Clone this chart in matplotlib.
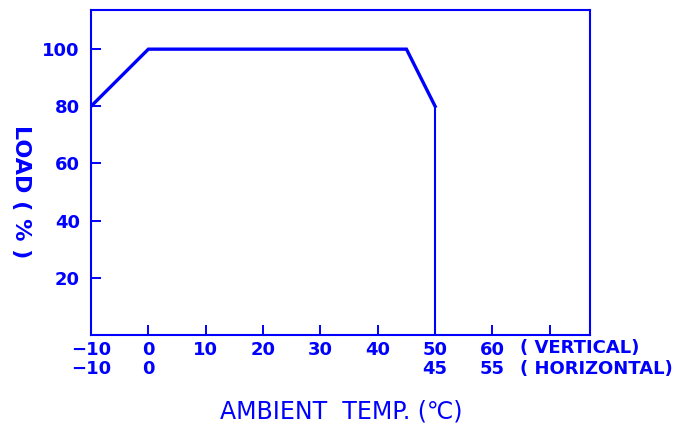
import matplotlib
matplotlib.use("Agg")
import matplotlib.pyplot as plt
from matplotlib.transforms import blended_transform_factory

BLUE = "#0000FF"

# data (vertical mounting scale)
curve_x = [-10, 0, 45, 50]
curve_y = [80, 100, 100, 80]
drop_x = [50, 50]
drop_y = [80, 0]

x_ticks = [-10, 0, 10, 20, 30, 40, 50, 60, 70]
vert_labels = ["−10", "0", "10", "20", "30", "40", "50", "60", ""]
horiz_pos = [-10, 0, 50, 60]
horiz_labels = ["−10", "0", "45", "55"]
y_ticks = [20, 40, 60, 80, 100]
y_labels = ["20", "40", "60", "80", "100"]

plt.rcParams['font.family'] = ['DejaVu Sans']
fig = plt.figure(figsize=(6.76, 4.26), dpi=100)
ax = fig.add_axes([91/676, 1-335/426, (590-91)/676, (335-10)/426])

ax.plot(curve_x, curve_y, color=BLUE, lw=2.4, solid_joinstyle='miter')
ax.plot(drop_x, drop_y, color=BLUE, lw=1.5)

ax.set_xlim(-10, 77)
ax.set_ylim(0, 113.7)

for s in ax.spines.values():
    s.set_color(BLUE)
    s.set_linewidth(1.5)

ax.set_xticks(x_ticks)
ax.set_xticklabels(vert_labels)
ax.set_yticks(y_ticks)
ax.set_yticklabels(y_labels)
ax.tick_params(axis='both', direction='in', color=BLUE, labelcolor=BLUE,
               labelsize=13, length=7, width=1.4)
ax.tick_params(axis='x', pad=4)
ax.tick_params(axis='y', pad=8)
for lab in ax.get_xticklabels() + ax.get_yticklabels():
    lab.set_fontweight('bold')

trans = blended_transform_factory(ax.transData, fig.transFigure)
for xp, lab in zip(horiz_pos, horiz_labels):
    ax.text(xp, 1-369/426, lab, transform=trans, ha='center', va='center',
            color=BLUE, fontsize=13, fontweight='bold')

fig.text(520/676, 1-348/426, "( VERTICAL)", ha='left', va='center',
         color=BLUE, fontsize=13, fontweight='bold')
fig.text(520/676, 1-369/426, "( HORIZONTAL)", ha='left', va='center',
         color=BLUE, fontsize=13, fontweight='bold')

fig.text(341/676, 1-411/426, "AMBIENT  TEMP. (℃)", ha='center', va='center',
         color=BLUE, fontsize=17)
fig.text(21/676, 1-192/426, "LOAD ( % )", ha='center', va='center',
         rotation=-90, color=BLUE, fontsize=16, fontweight='bold')

fig.savefig("out.png", dpi=100)
